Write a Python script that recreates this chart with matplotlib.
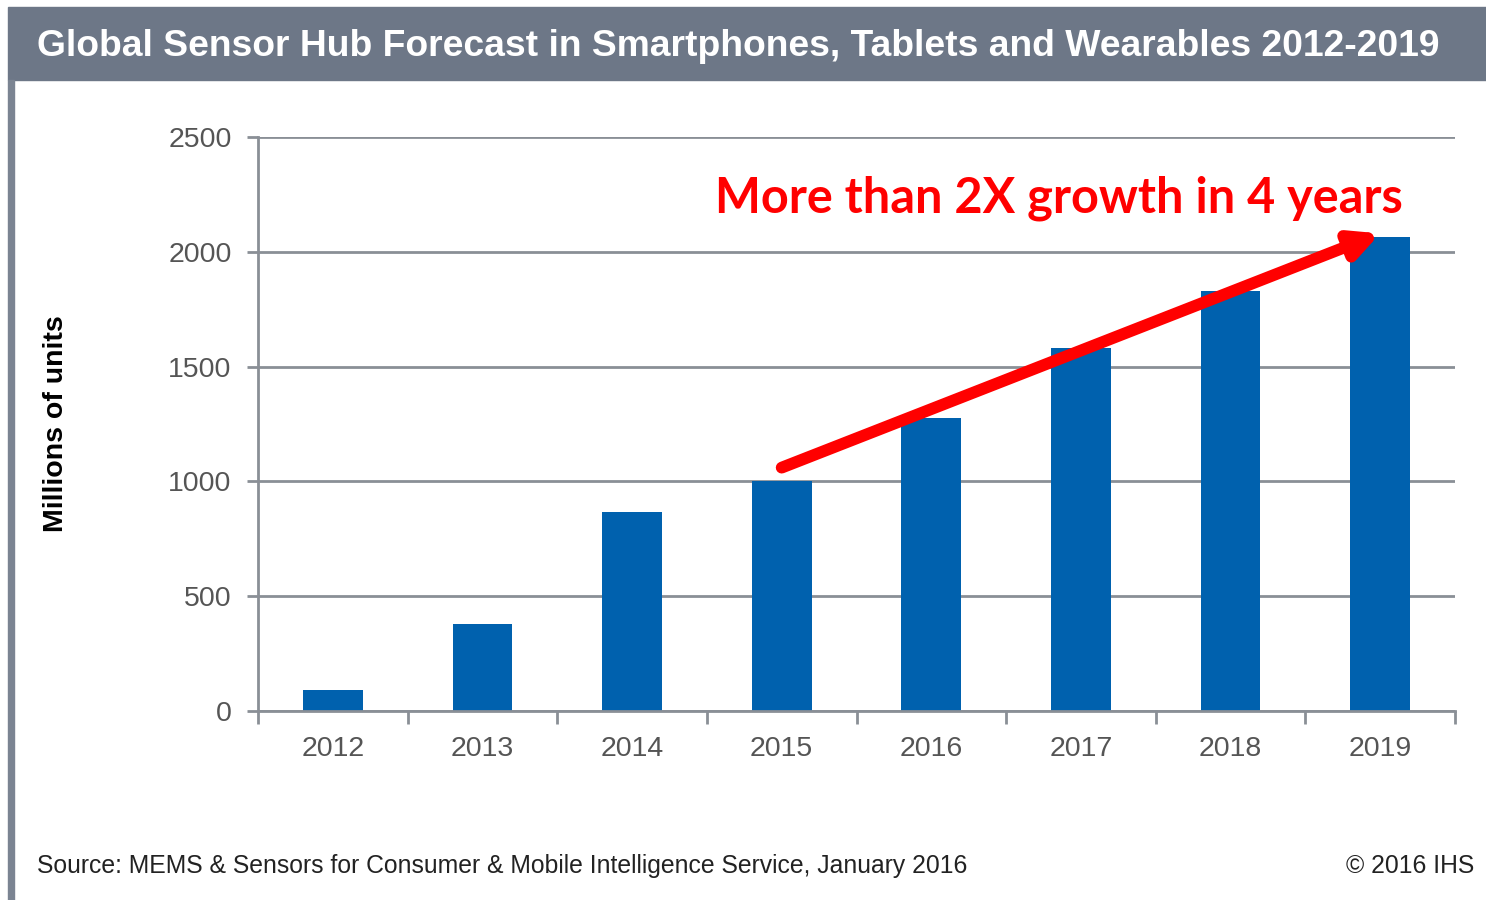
import matplotlib.pyplot as plt
from matplotlib.patches import Rectangle

# data (millions of units)
years = ["2012", "2013", "2014", "2015", "2016", "2017", "2018", "2019"]
units = [90, 380, 865, 1000, 1275, 1580, 1830, 2065]
yticks = [0, 500, 1000, 1500, 2000, 2500]

title = "Global Sensor Hub Forecast in Smartphones, Tablets and Wearables 2012-2019"
source = "Source: MEMS & Sensors for Consumer & Mobile Intelligence Service, January 2016"
callout = "More than 2X growth in 4 years"

bar_col = "#0061ae"
grid_col = "#8a8f96"
tick_col = "#555555"

fig = plt.figure(figsize=(14.86, 9), dpi=100)
fig.patch.set_facecolor("white")

# frame: title bar + left border
fig.patches.append(Rectangle((8 / 1486, 1 - 80 / 900), 1 - 8 / 1486, 73 / 900,
                             transform=fig.transFigure, color="#6d7787", zorder=0))
fig.patches.append(Rectangle((8 / 1486, 0), 6 / 1486, 1 - 80 / 900,
                             transform=fig.transFigure, color="#7b8492", zorder=0))
fig.text(37 / 1486, 1 - 46 / 900, title, color="white", fontsize=26.8, fontweight="bold",
         family="Liberation Sans", va="center", ha="left")

ax = fig.add_axes([258 / 1486, 1 - 711 / 900, (1455 - 258) / 1486, (711 - 137) / 900])
x = list(range(len(years)))
ax.bar(x, units, width=0.4, color=bar_col, zorder=3)

ax.set_xlim(-0.5, len(years) - 0.5)
ax.set_ylim(0, 2500)
ax.set_yticks(yticks)
ax.set_yticklabels([str(t) for t in yticks])
ax.set_xticks(x)
ax.set_xticklabels(years)
ax.set_xticks([i - 0.5 for i in range(len(years) + 1)], minor=True)
ax.tick_params(axis="x", which="major", length=0, pad=18)
ax.tick_params(axis="x", which="minor", length=9, width=2, color=grid_col)
ax.tick_params(axis="y", length=8, width=2, color=grid_col, pad=11)
for lab in ax.get_xticklabels() + ax.get_yticklabels():
    lab.set_fontsize(20.5)
    lab.set_color(tick_col)
    lab.set_family("Liberation Sans")

ax.yaxis.grid(True, color=grid_col, linewidth=2, zorder=0)
ax.set_axisbelow(True)
for s in ["top", "right"]:
    ax.spines[s].set_visible(False)
for s in ["left", "bottom"]:
    ax.spines[s].set_color(grid_col)
    ax.spines[s].set_linewidth(2)
ax.spines["bottom"].set_zorder(4)

ax.set_ylabel("Millions of units", fontsize=20.5, fontweight="bold", family="Liberation Sans",
              color="black", labelpad=0)
ax.yaxis.set_label_coords(-0.158, 0.5)

# growth arrow and callout
ax.annotate("", xy=(7, units[7] + 15), xytext=(3, units[3] + 60),
            arrowprops=dict(arrowstyle="-|>,head_length=1.6,head_width=0.8",
                            color="#ff0000", lw=8.5, shrinkA=0, shrinkB=0), zorder=5)
ax.text(0.9566, 0.894, callout, transform=ax.transAxes, color="#ff0000", fontsize=35,
        fontweight="bold", family="Lato", ha="right", va="center")

fig.text(37 / 1486, 1 - 866 / 900, source, fontsize=17.8, color="#222222",
         family="Liberation Sans", va="center", ha="left")
fig.text(1474 / 1486, 1 - 866 / 900, "\u00a9 2016 IHS", fontsize=17.8, color="#222222",
         family="Liberation Sans", va="center", ha="right")

fig.savefig("out.png", dpi=100)
